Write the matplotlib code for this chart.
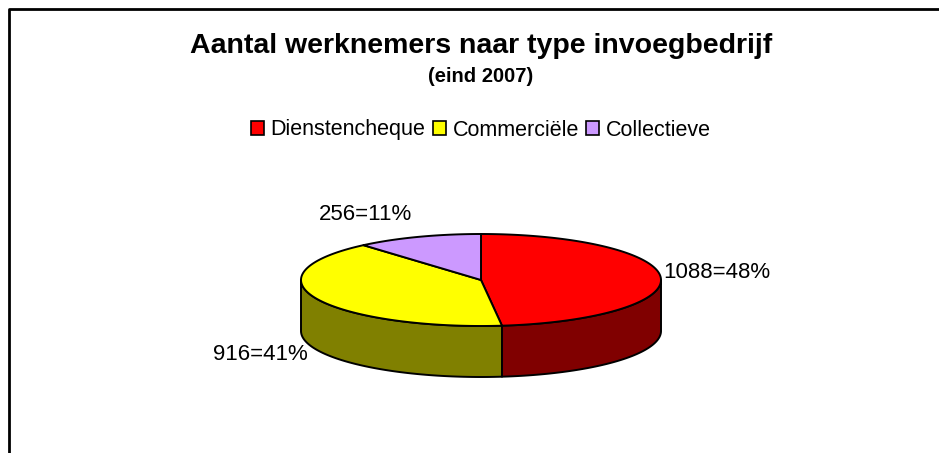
import numpy as np
import matplotlib
matplotlib.use('Agg')
import matplotlib.pyplot as plt
from matplotlib.patches import Polygon, Patch

plt.rcParams['font.family'] = ['Liberation Sans', 'DejaVu Sans']

# data
categories = ['Dienstencheque', 'Commerciële', 'Collectieve']
values = [1088, 916, 256]
percent_labels = ['48%', '41%', '11%']
top_colors = ['#FF0000', '#FFFF00', '#CC99FF']
side_colors = ['#800000', '#808000', '#664C80']

title = 'Aantal werknemers naar type invoegbedrijf'
subtitle = '(eind 2007)'

# pie layout (pixels)
cx, cy = 481, 280
ra, rb = 180, 46
depth = 51

fig = plt.figure(figsize=(9.39, 4.53), dpi=100)
ax = fig.add_axes([0, 0, 1, 1])
ax.set_xlim(0, 939)
ax.set_ylim(453, 0)
ax.axis('off')

# chart frame (runs off right and bottom)
ax.plot([9, 9, 945], [460, 8.5, 8.5], color='black', lw=2, solid_capstyle='butt')


def pt(theta, dy=0):
    t = np.radians(theta)
    return cx + ra * np.cos(t), cy - rb * np.sin(t) + dy


total = sum(values)
angles = []
start = 90.0
for v in values:
    sweep = 360.0 * v / total
    angles.append((start - sweep, start))
    start -= sweep

# side walls (front half only: -180..0)
for (a0, a1), col in zip(angles, side_colors):
    for shift in (0, -360, 360):
        lo = max(a0 + shift, -180)
        hi = min(a1 + shift, 0)
        if hi <= lo:
            continue
        th = np.linspace(lo, hi, 80)
        top = [pt(t) for t in th]
        bot = [pt(t, depth) for t in th[::-1]]
        ax.add_patch(Polygon(top + bot, closed=True, facecolor=col,
                             edgecolor='black', lw=1.4, joinstyle='round'))

# top faces
for (a0, a1), col in zip(angles, top_colors):
    th = np.linspace(a1, a0, 150)
    poly = [(cx, cy)] + [pt(t) for t in th]
    ax.add_patch(Polygon(poly, closed=True, facecolor=col,
                         edgecolor='black', lw=1.4, joinstyle='round'))

# data labels
label_pos = [(663, 272, 'left'), (308, 355, 'right'), (366, 214, 'center')]
for v, p, (lx, ly, ha) in zip(values, percent_labels, label_pos):
    ax.text(lx, ly, f'{v}={p}', ha=ha, va='center', fontsize=16)

# titles
ax.text(481, 46, title, ha='center', va='center', fontsize=20.5,
        fontweight='bold')
ax.text(481, 76, subtitle, ha='center', va='center', fontsize=14.5,
        fontweight='bold')

# legend
handles = [Patch(facecolor=c, edgecolor='black', lw=1.2) for c in top_colors]
leg = ax.legend(handles, categories, loc='center', bbox_to_anchor=(481 / 939, 1 - 130 / 453),
                ncol=3, frameon=False, fontsize=15.5, handlelength=0.6,
                handleheight=0.6, handletextpad=0.3, columnspacing=0.35,
                borderaxespad=0)

fig.savefig('out.png', dpi=100)
